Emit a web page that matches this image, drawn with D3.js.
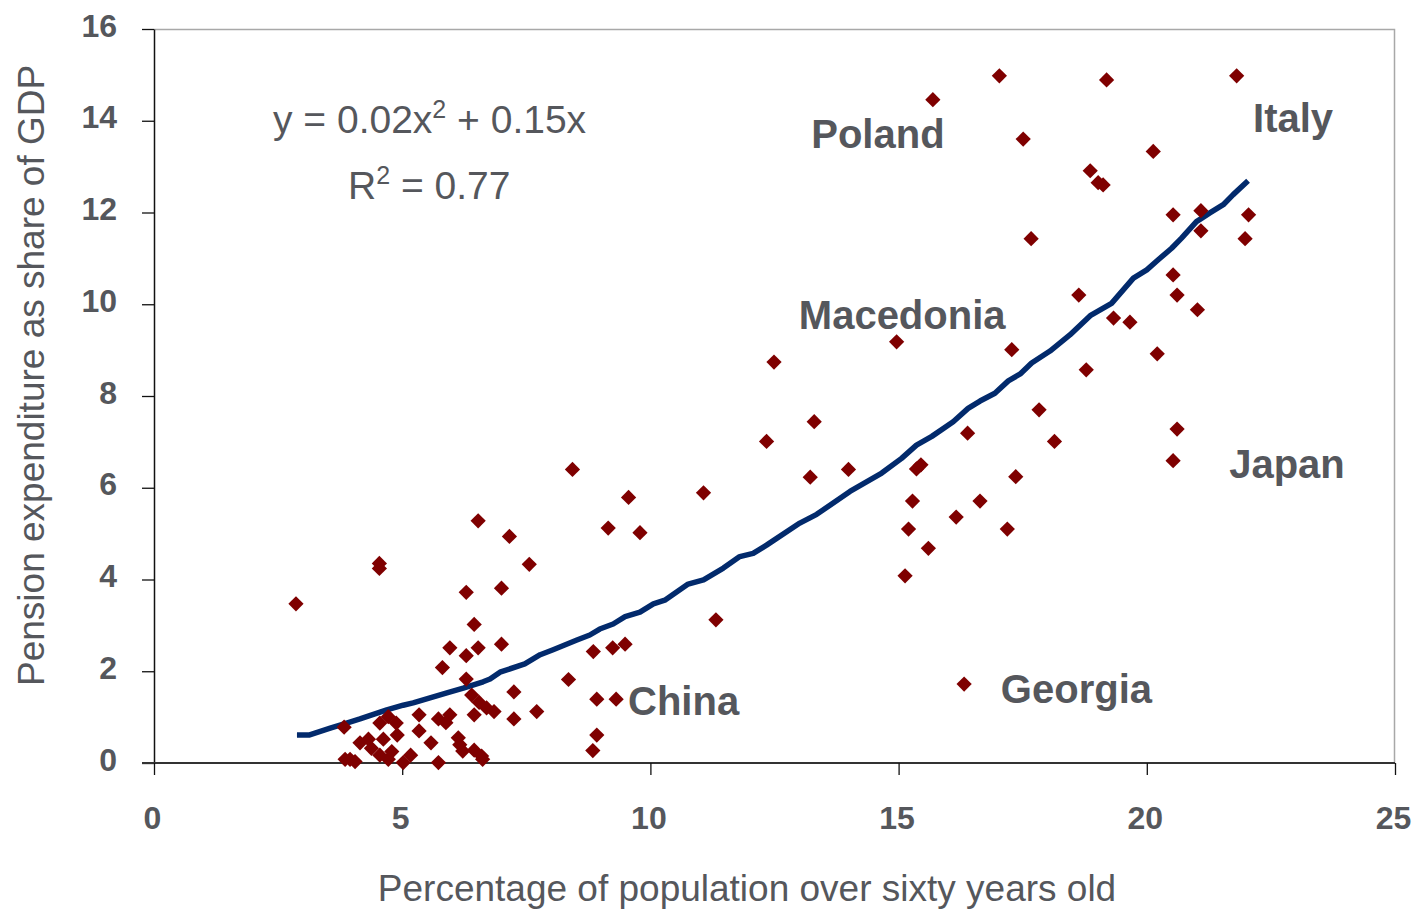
<!DOCTYPE html>
<html>
<head>
<meta charset="utf-8">
<script src="https://cdn.jsdelivr.net/npm/d3@7"></script>
<style>
  html, body { margin: 0; padding: 0; background: #fff; }
  svg text { font-family: "Liberation Sans", Arial, sans-serif; fill: #55575c; }
</style>
</head>
<body>
<div id="chart"></div>
<script>
// scatter points: share of population over 60 (x) vs pension spending % GDP (y)
var popOver60 = [2.86, 4.54, 4.54, 3.83, 3.85, 3.95, 4.05, 4.15, 4.32, 4.38,
  4.55, 4.72, 4.88, 4.62, 4.79, 4.72, 4.90, 4.55, 5.02, 5.17,
  5.34, 5.34, 5.58, 5.73, 5.73, 5.96, 5.88, 6.13, 6.16, 6.22,
  6.45, 6.45, 6.60, 6.62, 6.40, 6.55, 6.70, 6.85, 6.53, 7.16,
  7.56, 6.29, 7.00, 6.45, 5.96, 6.29, 6.53, 7.00, 5.81, 6.29,
  7.25, 7.71, 7.25, 8.35, 8.85, 9.24, 9.49, 8.92, 9.31, 8.92,
  8.84, 9.15, 8.43, 9.56, 9.79, 11.07, 12.34, 13.30, 13.22, 13.99,
  11.32, 12.49, 14.96, 17.28, 19.33, 19.66, 18.78, 17.83, 18.14, 16.39,
  15.36, 15.45, 15.28, 15.20, 15.60, 15.13, 16.16, 16.64, 17.36, 17.19,
  15.69, 17.03, 19.19, 21.81, 17.51, 20.13, 18.86, 19.02, 19.12, 17.67,
  20.53, 21.09, 21.09, 22.05, 21.98, 20.53, 20.61, 21.02, 18.63, 20.21,
  20.61, 20.53, 16.32];
var pensionGdp = [3.47, 4.35, 4.24, 0.78, 0.08, 0.08, 0.03, 0.44, 0.52, 0.32,
  0.87, 1.01, 0.87, 0.52, 0.25, 0.08, 0.61, 0.17, 0.01, 0.17,
  1.05, 0.70, 0.44, 0.01, 0.96, 1.05, 0.88, 0.55, 0.40, 0.26,
  1.05, 0.28, 0.15, 0.08, 1.48, 1.32, 1.20, 1.12, 5.28, 4.94,
  4.33, 3.72, 3.81, 3.02, 2.51, 2.34, 2.51, 2.59, 2.08, 1.83,
  1.55, 1.12, 0.96, 1.82, 2.43, 2.51, 2.59, 1.39, 1.39, 0.61,
  0.27, 5.12, 6.40, 5.79, 5.02, 5.89, 7.01, 7.44, 6.23, 6.40,
  3.12, 8.74, 9.18, 9.01, 9.70, 9.61, 8.57, 7.70, 7.01, 7.19,
  6.41, 6.50, 5.71, 5.10, 4.68, 4.08, 5.36, 5.71, 6.24, 5.10,
  14.46, 14.98, 14.89, 14.98, 13.60, 13.33, 12.91, 12.65, 12.60, 11.43,
  11.95, 12.04, 11.60, 11.95, 11.43, 10.64, 10.20, 9.88, 10.20, 8.92,
  7.28, 6.59, 1.72];

// fitted trend line vertices
var trendX = [2.88, 3.12, 3.55, 3.88, 4.15, 4.69, 5.02, 5.22, 5.90, 6.23,
  6.63, 6.77, 6.97, 7.47, 7.78, 8.04, 8.52, 8.78, 8.98, 9.25,
  9.49, 9.79, 10.06, 10.29, 10.76, 11.07, 11.47, 11.80, 12.07, 12.34,
  13.01, 13.35, 14.02, 14.66, 15.06, 15.36, 15.67, 16.10, 16.40, 16.64,
  16.94, 17.21, 17.45, 17.68, 18.05, 18.45, 18.86, 19.29, 19.73, 20.00,
  20.23, 20.50, 20.70, 21.00, 21.27, 21.54, 21.74, 22.04];
var trendY = [0.61, 0.61, 0.76, 0.87, 0.96, 1.16, 1.26, 1.31, 1.53, 1.63,
  1.77, 1.83, 1.98, 2.16, 2.36, 2.47, 2.68, 2.79, 2.92, 3.03,
  3.19, 3.29, 3.47, 3.55, 3.90, 3.99, 4.25, 4.50, 4.57, 4.75,
  5.23, 5.42, 5.92, 6.32, 6.64, 6.93, 7.12, 7.44, 7.73, 7.89,
  8.06, 8.33, 8.48, 8.72, 8.98, 9.33, 9.75, 10.02, 10.57, 10.75,
  10.97, 11.22, 11.44, 11.80, 11.99, 12.17, 12.39, 12.69];

var xTicks = [0, 5, 10, 15, 20, 25];
var yTicks = [0, 2, 4, 6, 8, 10, 12, 14, 16];

var countryNames = ["Poland", "Italy", "Macedonia", "Japan", "Georgia", "China"];
var countryAtX = [13.24, 22.14, 12.99, 21.66, 17.06, 9.55];
var countryAtY = [13.41, 13.76, 9.46, 6.21, 1.31, 1.05];

var W = 1413, H = 909;
var svg = d3.select("#chart").append("svg")
  .attr("width", W).attr("height", H);

var x = d3.scaleLinear().domain([0, 25]).range([154, 1395]);
var y = d3.scaleLinear().domain([0, 16]).range([763, 29]);

// top and right frame
svg.append("path")
  .attr("d", "M154,29.5H1394.5V763")
  .attr("fill", "none").attr("stroke", "#a8a8a8").attr("stroke-width", 1.5);

var yAxis = svg.append("g").attr("transform", "translate(154,0)")
  .call(d3.axisLeft(y).tickValues(yTicks).tickSize(12).tickSizeOuter(0).tickFormat(d3.format("d")));
var xAxis = svg.append("g").attr("transform", "translate(0,763)")
  .call(d3.axisBottom(x).tickValues(xTicks).tickSize(12).tickSizeOuter(0).tickFormat(d3.format("d")));

yAxis.select(".domain").attr("stroke", "#111").attr("stroke-width", 1.5);
xAxis.select(".domain").attr("stroke", "#333").attr("stroke-width", 2).attr("d", "M142,0H1395");
svg.selectAll(".tick line").attr("stroke", "#111").attr("stroke-width", 1.3);
svg.selectAll(".tick text")
  .style("font-size", "32px").style("font-weight", "bold")
  .attr("fill", "#55575c");
yAxis.selectAll(".tick text").attr("x", -37).attr("dy", "0.22em");
xAxis.selectAll(".tick text").attr("x", -2).attr("y", 66).attr("dy", 0);

// axis titles
svg.append("text")
  .attr("transform", "translate(44,686) rotate(-90)")
  .attr("text-anchor", "start")
  .style("font-size", "37px")
  .text("Pension expenditure as share of GDP");
svg.append("text")
  .attr("x", 747).attr("y", 901)
  .attr("text-anchor", "middle")
  .style("font-size", "37px")
  .text("Percentage of population over sixty years old");

// trend line
var pts = trendX.map(function (v, i) { return [v, trendY[i]]; });
svg.append("path")
  .datum(pts)
  .attr("fill", "none")
  .attr("stroke", "#022a6c")
  .attr("stroke-width", 5.5)
  .attr("stroke-linejoin", "round")
  .attr("d", d3.line().x(function (d) { return x(d[0]); }).y(function (d) { return y(d[1]); }));

// scatter diamonds
var diamond = d3.symbol().type(d3.symbolSquare).size(116);
svg.append("g").selectAll("path")
  .data(popOver60.map(function (v, i) { return [v, pensionGdp[i]]; }))
  .join("path")
  .attr("d", diamond)
  .attr("fill", "#7f0000")
  .attr("transform", function (d) { return "translate(" + x(d[0]) + "," + y(d[1]) + ") rotate(45)"; });

// equation text
var eq = svg.append("text").attr("x", 273).attr("y", 133).style("font-size", "39px");
eq.append("tspan").text("y = 0.02x");
eq.append("tspan").attr("dy", -15).style("font-size", "25px").text("2");
eq.append("tspan").attr("dy", 15).text(" + 0.15x");
var r2 = svg.append("text").attr("x", 348).attr("y", 199).style("font-size", "39px");
r2.append("tspan").text("R");
r2.append("tspan").attr("dy", -15).style("font-size", "25px").text("2");
r2.append("tspan").attr("dy", 15).text(" = 0.77");

// country labels
svg.append("g").selectAll("text")
  .data(countryNames)
  .join("text")
  .attr("x", function (d, i) { return x(countryAtX[i]); })
  .attr("y", function (d, i) { return y(countryAtY[i]); })
  .style("font-size", "40px").style("font-weight", "bold")
  .text(function (d) { return d; });
</script>
</body>
</html>
